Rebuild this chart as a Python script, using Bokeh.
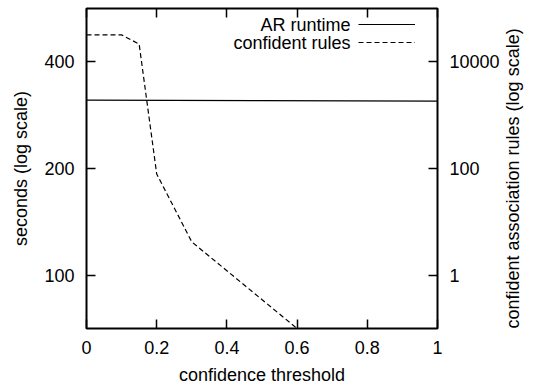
import math
from bokeh.plotting import figure
from bokeh.models import (Range1d, LogAxis, LinearAxis, FixedTicker, Legend,
                          LegendItem, LogScale, Label)
from bokeh.embed import file_html
from bokeh.resources import INLINE

# ---- data ----
threshold_runtime = [0.0, 0.5, 1.0]
runtime_seconds = [312, 311, 310]

threshold_rules = [0.0, 0.1, 0.15, 0.2, 0.3, 0.6, 0.7, 0.8, 0.9, 1.0]
confident_rules = [32000, 32000, 21500, 79, 4.2, 0.1, 0.1, 0.1, 0.1, 0.1]

series_names = ["AR runtime", "confident rules"]

x_ticks = [0, 0.2, 0.4, 0.6, 0.8, 1]
x_tick_labels = ["0", "0.2", "0.4", "0.6", "0.8", "1"]
left_ticks = [100, 200, 400]
left_tick_labels = ["100", "200", "400"]
right_ticks = [1, 100, 10000]
right_tick_labels = ["1", "100", "10000"]

FONT = "Liberation Sans"
FS = "18px"

p = figure(width=535, height=387, x_range=Range1d(0, 1),
           y_range=Range1d(70.71, 565.69), y_axis_type="log",
           output_backend="svg", toolbar_location=None,
           min_border_left=86, min_border_right=97, min_border_top=8,
           min_border_bottom=58)
p.extra_y_ranges = {"rules": Range1d(0.1, 1e5)}
p.extra_y_scales = {"rules": LogScale()}

p.grid.visible = False
p.outline_line_color = "black"
p.outline_line_width = 2
p.background_fill_color = "white"
p.border_fill_color = "white"

r1 = p.line(threshold_runtime, runtime_seconds, line_color="black", line_width=1.2)
r2 = p.line(threshold_rules, confident_rules, y_range_name="rules",
            line_color="black", line_width=1.2, line_dash="5 3")


def style(ax, labels_font=FS):
    ax.axis_line_color = None
    ax.major_tick_in = 9
    ax.major_tick_out = 0
    ax.minor_tick_line_color = None
    ax.major_tick_line_color = "black"
    ax.major_tick_line_width = 1.5
    ax.major_label_text_font = FONT
    ax.major_label_text_font_size = labels_font
    ax.major_label_text_color = "black"
    ax.axis_label_text_font = FONT
    ax.axis_label_text_font_size = FS
    ax.axis_label_text_font_style = "normal"
    ax.axis_label_text_color = "black"


xa = p.xaxis[0]
xa.ticker = FixedTicker(ticks=x_ticks)
xa.major_label_overrides = dict(zip(x_ticks, x_tick_labels))
xa.axis_label = "confidence threshold"
style(xa)
xa.major_label_standoff = 12
xa.axis_label_standoff = 8

ya = p.yaxis[0]
ya.ticker = FixedTicker(ticks=left_ticks)
ya.major_label_overrides = dict(zip(left_ticks, left_tick_labels))
ya.axis_label = "seconds (log scale)"
style(ya)
ya.major_label_standoff = 12
ya.axis_label_standoff = 10

ra = LogAxis(y_range_name="rules", ticker=FixedTicker(ticks=right_ticks),
             axis_label="confident association rules (log scale)")
ra.major_label_overrides = dict(zip(right_ticks, right_tick_labels))
style(ra)
ra.major_label_standoff = 12
ra.axis_label_standoff = 10
ra.axis_label_orientation = math.pi / 2
ra.axis_label_align = "start"
p.add_layout(ra, "right")

# mirrored x ticks on the top edge (no labels)
ta = LinearAxis(ticker=FixedTicker(ticks=x_ticks))
style(ta, labels_font="1px")
ta.major_label_text_color = None
ta.major_label_standoff = 0
p.add_layout(ta, "above")

# legend samples (gnuplot style: sample on the right, text on its left)
legend = Legend(items=[LegendItem(label=series_names[0], renderers=[r1]),
                       LegendItem(label=series_names[1], renderers=[r2])],
                location=(272, 277), glyph_width=57, glyph_height=18,
                label_height=18, label_width=0, spacing=0, padding=0,
                label_standoff=0, border_line_color=None,
                background_fill_alpha=0, label_text_color=None,
                label_text_font=FONT, label_text_font_size="1px")
p.add_layout(legend)

for name, ypos in zip(series_names, [304, 286]):
    p.add_layout(Label(x=264, y=ypos, x_units="screen", y_units="screen",
                       text=name, text_align="right", text_baseline="middle",
                       text_font=FONT, text_font_size=FS, text_color="black"))

open("out.html", "w").write(file_html(p, INLINE))
